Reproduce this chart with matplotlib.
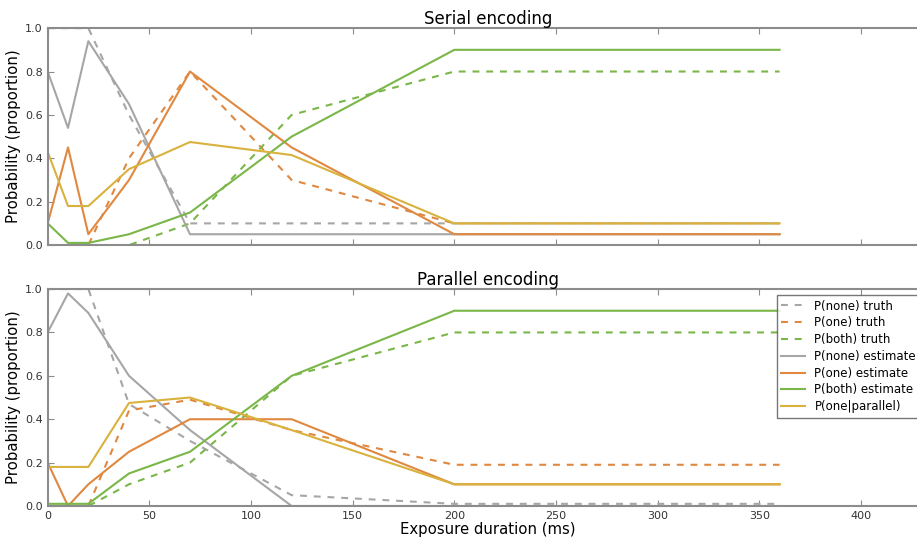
import matplotlib
matplotlib.use('Agg')
import matplotlib.pyplot as plt

# exposure durations (ms)
durations = [0, 10, 20, 40, 70, 120, 200, 360]

# serial encoding
serial_none_truth = [1.0, 1.0, 1.0, 0.6, 0.1, 0.1, 0.1, 0.1]
serial_one_truth = [0.0, 0.0, 0.0, 0.4, 0.8, 0.3, 0.1, 0.1]
serial_both_truth = [0.0, 0.0, 0.0, 0.0, 0.1, 0.6, 0.8, 0.8]
serial_none_est = [0.8, 0.54, 0.94, 0.65, 0.05, 0.05, 0.05, 0.05]
serial_one_est = [0.1, 0.45, 0.05, 0.3, 0.8, 0.45, 0.05, 0.05]
serial_both_est = [0.1, 0.01, 0.01, 0.05, 0.15, 0.5, 0.9, 0.9]
serial_one_par = [0.43, 0.18, 0.18, 0.35, 0.475, 0.415, 0.1, 0.1]

# parallel encoding
par_none_truth = [1.0, 1.0, 1.0, 0.47, 0.3, 0.05, 0.01, 0.01]
par_one_truth = [0.0, 0.0, 0.0, 0.44, 0.49, 0.35, 0.19, 0.19]
par_both_truth = [0.0, 0.0, 0.0, 0.1, 0.2, 0.6, 0.8, 0.8]
par_none_est = [0.8, 0.98, 0.89, 0.6, 0.35, 0.0, 0.0, 0.0]
par_one_est = [0.2, 0.0, 0.1, 0.25, 0.4, 0.4, 0.1, 0.1]
par_both_est = [0.01, 0.01, 0.01, 0.15, 0.25, 0.6, 0.9, 0.9]
par_one_par = [0.18, 0.18, 0.18, 0.475, 0.5, 0.35, 0.1, 0.1]

GRAY = '#a6a6a6'
ORANGE = '#e0883f'
GREEN = '#7ab648'
YELLOW = '#d9b23d'
SPINE = '#8c8c8c'
DASH = (3.3, 3.3)


def panel(ax, title, series):
    none_t, one_t, both_t, none_e, one_e, both_e, one_p = series
    ax.plot(durations, none_t, '--', dashes=DASH, color=GRAY, lw=1.5, label='P(none) truth')
    ax.plot(durations, one_t, '--', dashes=DASH, color=ORANGE, lw=1.5, label='P(one) truth')
    ax.plot(durations, both_t, '--', dashes=DASH, color=GREEN, lw=1.5, label='P(both) truth')
    ax.plot(durations, none_e, '-', color=GRAY, lw=1.5, label='P(none) estimate')
    ax.plot(durations, one_e, '-', color=ORANGE, lw=1.5, label='P(one) estimate')
    ax.plot(durations, both_e, '-', color=GREEN, lw=1.5, label='P(both) estimate')
    ax.plot(durations, one_p, '-', color=YELLOW, lw=1.5, label='P(one|parallel)')
    ax.set_xlim(0, 433)
    ax.set_ylim(0, 1)
    ax.set_xticks([0, 50, 100, 150, 200, 250, 300, 350, 400])
    ax.set_yticks([0, 0.2, 0.4, 0.6, 0.8, 1.0])
    ax.set_title(title, fontsize=12, pad=3)
    ax.set_ylabel('Probability (proportion)', fontsize=10.7, labelpad=3)
    for s in ax.spines.values():
        s.set_color(SPINE)
        s.set_linewidth(1.5)
    ax.tick_params(direction='in', top=True, right=True, color=SPINE,
                   labelsize=8, labelcolor='#333333', length=4)


fig = plt.figure(figsize=(9.17, 5.41), dpi=100)
ax1 = fig.add_axes([0.052, 0.547, 0.96, 0.401])
ax2 = fig.add_axes([0.052, 0.0647, 0.96, 0.401])

panel(ax1, 'Serial encoding', [serial_none_truth, serial_one_truth, serial_both_truth,
                               serial_none_est, serial_one_est, serial_both_est, serial_one_par])
panel(ax2, 'Parallel encoding', [par_none_truth, par_one_truth, par_both_truth,
                                 par_none_est, par_one_est, par_both_est, par_one_par])
ax1.set_xticklabels([])
ax2.set_xlabel('Exposure duration (ms)', fontsize=10.7, labelpad=1)

leg = ax2.legend(loc='upper left', bbox_to_anchor=(0.847, 0.455),
                 bbox_transform=fig.transFigure, fontsize=8.5, fancybox=False,
                 borderaxespad=0, handlelength=2, labelspacing=0.32)
leg.get_frame().set_edgecolor('#555555')

fig.savefig('out.png', dpi=100)
